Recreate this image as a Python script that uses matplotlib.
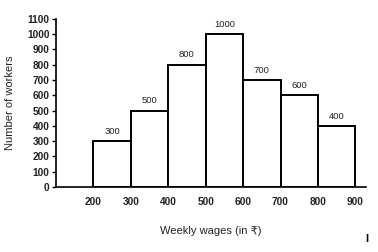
import matplotlib
matplotlib.use("Agg")
from matplotlib import pyplot as plt

plt.rcParams['font.family'] = ['Liberation Sans', 'DejaVu Sans']

# class intervals (lower edges) and number of workers
lower = [200, 300, 400, 500, 600, 700, 800]
workers = [300, 500, 800, 1000, 700, 600, 400]
width = 100
xticks = [200, 300, 400, 500, 600, 700, 800, 900]
yticks = list(range(0, 1101, 100))

fig = plt.figure(figsize=(3.78, 2.52), dpi=100)
ax = fig.add_axes([0.148, 0.258, 0.82, 0.667])

bars = ax.bar(lower, workers, width=width, align='edge', color='white',
              edgecolor='black', linewidth=1.4)
for x, h in zip(lower, workers):
    ax.text(x + width / 2, h + 35, str(h), ha='center', va='bottom', fontsize=6.8,
            color='#222222')

ax.set_xlim(100, 928)
ax.set_ylim(0, 1100)
ax.set_xticks(xticks)
ax.set_yticks(yticks)
ax.tick_params(axis='x', length=0, pad=7, labelsize=7.3, width=0)
ax.tick_params(axis='y', length=3, pad=1.5, labelsize=7.3, width=1)
for lab in ax.get_xticklabels() + ax.get_yticklabels():
    lab.set_fontweight('bold')
    lab.set_color('#222222')

ax.spines['top'].set_visible(False)
ax.spines['right'].set_visible(False)
ax.spines['left'].set_linewidth(1.2)
ax.spines['bottom'].set_linewidth(1.2)

ax.set_xlabel('Weekly wages (in ₹)', fontsize=8, color='#222222')
ax.set_ylabel('Number of workers', fontsize=8, color='#222222')
ax.xaxis.set_label_coords(0.5, -0.23)
ax.yaxis.set_label_coords(-0.132, 0.5)

fig.text(0.971, 0.05, 'I', fontsize=8, fontweight='bold', ha='center', va='center')

fig.savefig('out.png', dpi=100)
